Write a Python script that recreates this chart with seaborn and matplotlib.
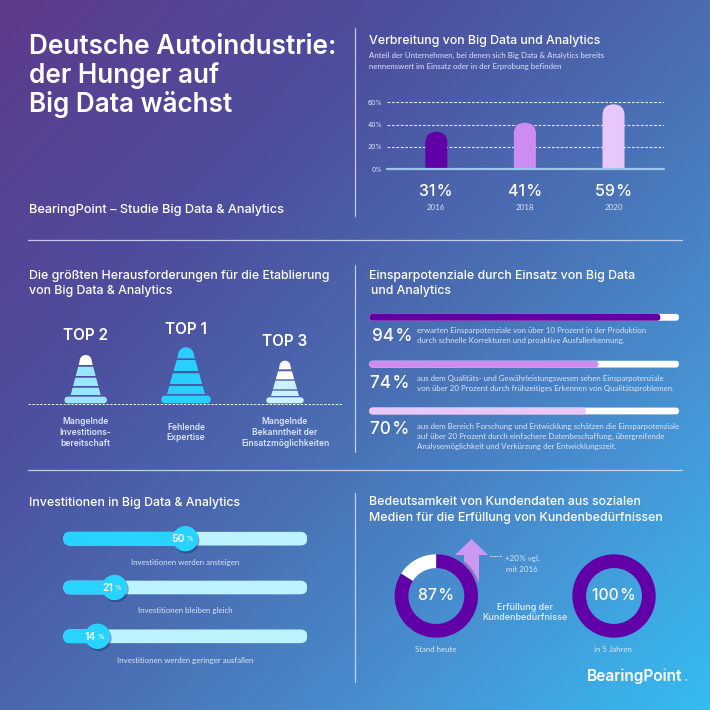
import numpy as np
import matplotlib
matplotlib.use("Agg")
import matplotlib.pyplot as plt
import seaborn as sns
from matplotlib.colors import LinearSegmentedColormap
from matplotlib.patches import FancyBboxPatch, Polygon, Circle
from matplotlib.transforms import IdentityTransform
from matplotlib import patheffects as pe

# ---------- data ----------
years = ["2016", "2018", "2020"]
adoption_drawn = [33.5, 41.7, 58.3]
adoption_labels = ["31\u200a%", "41\u200a%", "59\u200a%"]
adoption_colors = ["#6200A8", "#CC8CF2", "#E8C8FB"]
adoption_ticks = [0, 20, 40, 60]

savings_pct = [94, 74, 70]
savings_colors = ["#6200A8", "#CC8CF2", "#E8C8FB"]
savings_text = [
    ["erwarten Einsparpotenziale von über 10 Prozent in der Produktion",
     "durch schnelle Korrekturen und proaktive Ausfallerkennung."],
    ["aus dem Qualitäts- und Gewährleistungswesen sehen Einsparpotenziale",
     "von über 20 Prozent durch frühzeitiges Erkennen von Qualitätsproblemen."],
    ["aus dem Bereich Forschung und Entwicklung schätzen die Einsparpotenziale",
     "auf über 20 Prozent durch einfachere Datenbeschaffung, übergreifende",
     "Analysemöglichkeit und Verkürzung der Entwicklungszeit."],
]

invest_pct = [50, 21, 14]
invest_labels = ["Investitionen werden ansteigen", "Investitionen bleiben gleich",
                 "Investitionen werden geringer ausfallen"]

donut_today = [16, 84]
donut_future = [100]

WHITE = "#FFFFFF"
SOFT = "#DCE4FA"
HEAD = "Inter"
BODY = "Lato"
HS = 8.9    # section heading size
BS = 5.65   # body text size

sns.set_theme(style="white")
plt.rcParams["font.family"] = ["Inter", "DejaVu Sans"]
plt.rcParams["axes.unicode_minus"] = False

fig = plt.figure(figsize=(7.1, 7.1), dpi=100)
W = H = 710.0

# ---------- background ----------
bg = fig.add_axes([0, 0, 1, 1], zorder=0)
yy, xx = np.mgrid[0:1:300j, 0:1:300j]
t = (xx * 0.52 + yy * 0.48)
cmap = LinearSegmentedColormap.from_list(
    "grad", [(0, "#5E3A8C"), (0.3, "#4D4E9E"), (0.55, "#4A70B4"),
             (0.78, "#4794D4"), (1, "#34BCF0")])
bg.imshow(t, cmap=cmap, extent=(0, W, H, 0), aspect="auto", vmin=0, vmax=1)
bg.set_xlim(0, W); bg.set_ylim(H, 0); bg.axis("off")

fg = fig.add_axes([0, 0, 1, 1], zorder=20)
fg.set_xlim(0, W); fg.set_ylim(H, 0); fg.axis("off"); fg.patch.set_alpha(0)


def txt(x, y, s, size, color=WHITE, weight="normal", ha="left", font=BODY, va="center", **kw):
    return fg.text(x, y, s, fontsize=size, color=color, fontweight=weight, ha=ha,
                   va=va, family=[font, "DejaVu Sans"], **kw)


def px_axes(l, t_, r, b, z=5):
    ax = fig.add_axes([l / W, 1 - b / H, (r - l) / W, (b - t_) / H], zorder=z)
    ax.patch.set_alpha(0)
    return ax


def pill(ax, bar, color, round_bottom=True, z=3):
    """Swap a seaborn bar for a rounded one of the same extent."""
    e = bar.get_window_extent()
    r = min(e.width, e.height) / 2
    y0, h = e.y0, e.height
    if not round_bottom:
        y0 -= r; h += r
    p = FancyBboxPatch((e.x0 + r, y0 + r), e.width - 2 * r, h - 2 * r,
                       boxstyle=f"round,pad={r},rounding_size={r}",
                       fc=color, ec="none", transform=IdentityTransform(), zorder=z)
    bar.set_visible(False)
    ax.add_patch(p)
    return p


# ---------- dividers ----------
LINE = dict(color="#D8DFF6", lw=0.9, alpha=0.85)
bg.plot([28, 682], [240, 240], **LINE)
bg.plot([28, 682], [470, 470], **LINE)
for a, b in [(28, 216), (265, 452), (493, 682)]:
    bg.plot([355, 355], [a, b], **LINE)

# ---------- title ----------
for y, s in zip([54, 83, 112], ["Deutsche Autoindustrie:", "der Hunger auf", "Big Data wächst"]):
    txt(29, y, s, 18.8, weight="semibold", font=HEAD, va="baseline")
txt(29, 210, "BearingPoint – Studie Big Data & Analytics", 9.2, weight="medium", font=HEAD)

# ---------- adoption bars ----------
txt(369, 41, "Verbreitung von Big Data und Analytics", HS, weight="medium", font=HEAD)
txt(369, 55, "Anteil der Unternehmen, bei denen sich Big Data & Analytics bereits", BS, color=SOFT)
txt(369, 67, "nennenswert im Einsatz oder in der Erprobung befinden", BS, color=SOFT)

ax = px_axes(386.7, 98, 664, 169)
sns.barplot(x=years, y=adoption_drawn, hue=years, palette=adoption_colors, legend=False,
            width=0.249, ax=ax, saturation=1)
ax.set_xlim(-0.56, 2.57); ax.set_ylim(0, 64)
ax.set_yticks(adoption_ticks, [f"{v}%" for v in adoption_ticks])
ax.set_xticks([]); ax.set_xlabel(""); ax.set_ylabel("")
ax.tick_params(axis="y", length=0, pad=3.2, labelsize=4.8, labelcolor=SOFT)
sns.despine(ax=ax, left=True, bottom=True)
ax.grid(False)
for v in adoption_ticks[1:]:
    ax.axhline(v, color=WHITE, lw=0.8, ls=(0, (2.5, 1.5)), alpha=0.85, zorder=1)
ax.axhline(0, color="#9CC6EA", lw=1.6, clip_on=False, zorder=4)
for bar, c in zip(list(ax.patches), adoption_colors):
    pill(ax, bar, c, round_bottom=False)
for x, lab, yr in zip([436, 525, 613.5], adoption_labels, years):
    txt(x, 192, lab, 11.5, weight="medium", ha="center", font=HEAD)
    txt(x, 207, yr, 5.7, color=SOFT, ha="center")

# ---------- cones ----------
bg_cones = [
    dict(cx=85.7, top=355.0, r=6.0, end=(395.0, 15.0), base=(396.7, 21.2),
         bands=[(355, 365), (366.7, 376), (377.7, 386), (387.7, 395)],
         colors=[WHITE, "#9BE6FF", "#9BE6FF", "#9BE6FF"], base_c="#9BE6FF"),
    dict(cx=186.0, top=347.3, r=8.0, end=(394.0, 19.0), base=(395.7, 24.7),
         bands=[(347.3, 358.3), (360, 371), (373.3, 384), (386, 394)],
         colors=["#29D0FF"] * 4, base_c="#29D0FF"),
    dict(cx=285.0, top=360.7, r=5.5, end=(396.0, 14.0), base=(397.3, 18.7),
         bands=[(360.7, 369.3), (371.3, 379.3), (380.7, 389.3), (390.7, 396)],
         colors=[WHITE, WHITE, "#CBF3FF", "#CBF3FF"], base_c="#CBF3FF"),
]
for c in bg_cones:
    cx, top, r = c["cx"], c["top"], c["r"]
    endy, endw = c["end"]
    hw = lambda y: r + (y - (top + r)) * (endw - r) / (endy - (top + r))
    for i, ((a, b), col) in enumerate(zip(c["bands"], c["colors"])):
        if i == 0:
            th = np.linspace(np.pi, 2 * np.pi, 24)
            pts = list(zip(cx + r * np.cos(th), top + r + r * np.sin(th)))
            pts += [(cx + hw(b), b), (cx - hw(b), b)]
        else:
            pts = [(cx - hw(a), a), (cx + hw(a), a), (cx + hw(b), b), (cx - hw(b), b)]
        bg.add_patch(Polygon(pts, closed=True, fc=col, ec="none", zorder=3))
    by, bw = c["base"]
    rr = (403.3 - by) / 2
    bg.add_patch(FancyBboxPatch((cx - bw + rr, by + rr), 2 * (bw - rr), 403.3 - by - 2 * rr,
                                boxstyle=f"round,pad={rr},rounding_size={rr}",
                                fc=c["base_c"], ec="none", zorder=3))
bg.plot([28, 342], [403.5, 403.5], color=WHITE, lw=0.7, ls=(0, (2.5, 1.5)), alpha=0.9, zorder=4)

txt(29, 275.5, "Die größten Herausforderungen für die Etablierung", HS, weight="medium", font=HEAD)
txt(29, 291, "von Big Data & Analytics", HS, weight="medium", font=HEAD)
for x, y, s in [(85.5, 335, "TOP 2"), (186, 329, "TOP 1"), (285, 342, "TOP 3")]:
    txt(x, y, s, 11, weight="semibold", ha="center", font=HEAD)
for x, ys, lines in [
    (85.5, [421, 432.5, 443.5], ["Mangelnde", "Investitions-", "bereitschaft"]),
    (186, [427, 438], ["Fehlende", "Expertise"]),
    (285, [421, 432.5, 443.5], ["Mangelnde", "Bekanntheit der", "Einsatzmöglichkeiten"]),
]:
    for y, s in zip(ys, lines):
        txt(x, y, s, 6.1, color=SOFT, weight="semibold", ha="center", font=HEAD)

# ---------- savings bars ----------
txt(369, 276, "Einsparpotenziale durch Einsatz von Big Data", HS, weight="medium", font=HEAD)
txt(371, 291, "und Analytics", HS, weight="medium", font=HEAD)

ax = px_axes(369.3, 293.9, 679, 434.4)
rows = [str(v) for v in savings_pct]
sns.barplot(x=[100] * 3, y=rows, color=WHITE, saturation=1, width=0.145, ax=ax)
sns.barplot(x=savings_pct, y=rows, hue=rows, palette=savings_colors, legend=False,
            saturation=1, width=0.145, ax=ax)
ax.set_xlim(0, 100); ax.set_ylim(2.5, -0.5); ax.axis("off")
bars = list(ax.patches)
for bar, c in zip(bars[:3], [WHITE] * 3):
    pill(ax, bar, c, z=3)
fills = sorted(bars[3:], key=lambda b: b.get_y())
for bar, c in zip(fills, savings_colors):
    pill(ax, bar, c, z=4)

for x, y, v in zip([371.5, 370.5, 370.5], [336.5, 384, 430], savings_pct):
    txt(x, y, f"{v}\u200a%", 12.3, weight="medium", font=HEAD)
for ys, lines in zip([[330, 340.5], [378.5, 389], [426, 436.5, 447]], savings_text):
    for y, s in zip(ys, lines):
        txt(417, y, s, BS, color=SOFT)

# ---------- investment sliders ----------
txt(29, 503, "Investitionen in Big Data & Analytics", HS, weight="medium", font=HEAD)

ax = px_axes(63.3, 514.3, 307.3, 660.7)
rows = invest_labels
sns.barplot(x=[100] * 3, y=rows, color="#BDF3FF", saturation=1, width=0.28, ax=ax)
sns.barplot(x=invest_pct, y=rows, color="#29D3FF", saturation=1, width=0.28, ax=ax)
ax.set_xlim(0, 100); ax.set_ylim(2.5, -0.5); ax.axis("off")
bars = list(ax.patches)
for bar in bars[:3]:
    pill(ax, bar, "#BDF3FF", z=3)
for bar in bars[3:]:
    pill(ax, bar, "#29D3FF", z=4)
sns.scatterplot(x=invest_pct, y=[0, 1, 2], s=335, color="#29D3FF", linewidth=0, ax=ax, zorder=6,
                clip_on=False,
                path_effects=[pe.SimplePatchShadow(offset=(1, -1.5), shadow_rgbFace="#1A2A6A", alpha=0.4),
                              pe.Normal()])
ax.set_xlim(0, 100); ax.set_ylim(2.5, -0.5)
for x, y, v in zip([183, 111.5, 94], [539, 588, 636.5], invest_pct):
    txt(x + 2, y, f"{v}", 7.5, weight="semibold", ha="right", font=HEAD)
    txt(x + 3, y + 0.3, "%", 4.5, weight="semibold", font=HEAD)
for y, s in zip([562, 611, 660], invest_labels):
    txt(185, y, s, 5.7, color=SOFT, ha="center")

# ---------- donuts ----------
txt(369, 502, "Bedeutsamkeit von Kundendaten aus sozialen", HS, weight="medium", font=HEAD)
txt(369, 518, "Medien für die Erfüllung von Kundenbedürfnissen", HS, weight="medium", font=HEAD)

arrow = [(471.5, 539), (488, 555), (479, 555), (479, 582), (464, 582), (464, 555), (455, 555)]
arrow_patch = Polygon(arrow, closed=True, fc="#CC99F2", ec="none", zorder=3)
bg.add_patch(arrow_patch)
halo = Circle((436.3, 596), 44.5, fc="#7C78C8", ec="none", zorder=3.5)
bg.add_patch(halo)
halo.set_clip_path(arrow_patch)

for cx, vals, cols in [(436.3, donut_today, [WHITE, "#6200A8"]), (614.0, donut_future, ["#6200A8"])]:
    ax = px_axes(cx - 41.7, 596 - 41.7, cx + 41.7, 596 + 41.7)
    ax.pie(vals, colors=cols, startangle=90, counterclock=True, radius=1,
           wedgeprops=dict(width=0.33, edgecolor="none"))
    ax.set_xlim(-1, 1); ax.set_ylim(-1, 1); ax.set_aspect("equal")

bg.plot([490, 502], [555.5, 555.5], color=SOFT, lw=0.7, ls=(0, (2, 1.2)), zorder=4)
txt(522, 558, "+20\u200a% vgl.", 5.7, color=SOFT, ha="center")
txt(522, 569, "mit 2016", 5.7, color=SOFT, ha="center")
txt(525, 607, "Erfüllung der", 6.4, weight="semibold", ha="center", font=HEAD, color=SOFT)
txt(525, 618, "Kundenbedürfnisse", 6.4, weight="semibold", ha="center", font=HEAD, color=SOFT)
txt(436.3, 596, "87\u200a%", 11.3, weight="medium", ha="center", font=HEAD)
txt(614, 596, "100\u200a%", 11.3, weight="medium", ha="center", font=HEAD)
txt(436, 649, "Stand heute", 5.7, color=SOFT, ha="center")
txt(613, 649, "in 5 Jahren", 5.7, color=SOFT, ha="center")

txt(587, 681, "BearingPoint", 11.2, weight="semibold", font=HEAD, va="baseline")
txt(684, 681, ".", 9, color="#9BE6FF", weight="bold", font=HEAD, va="baseline")

fig.savefig("out.png", dpi=100)
